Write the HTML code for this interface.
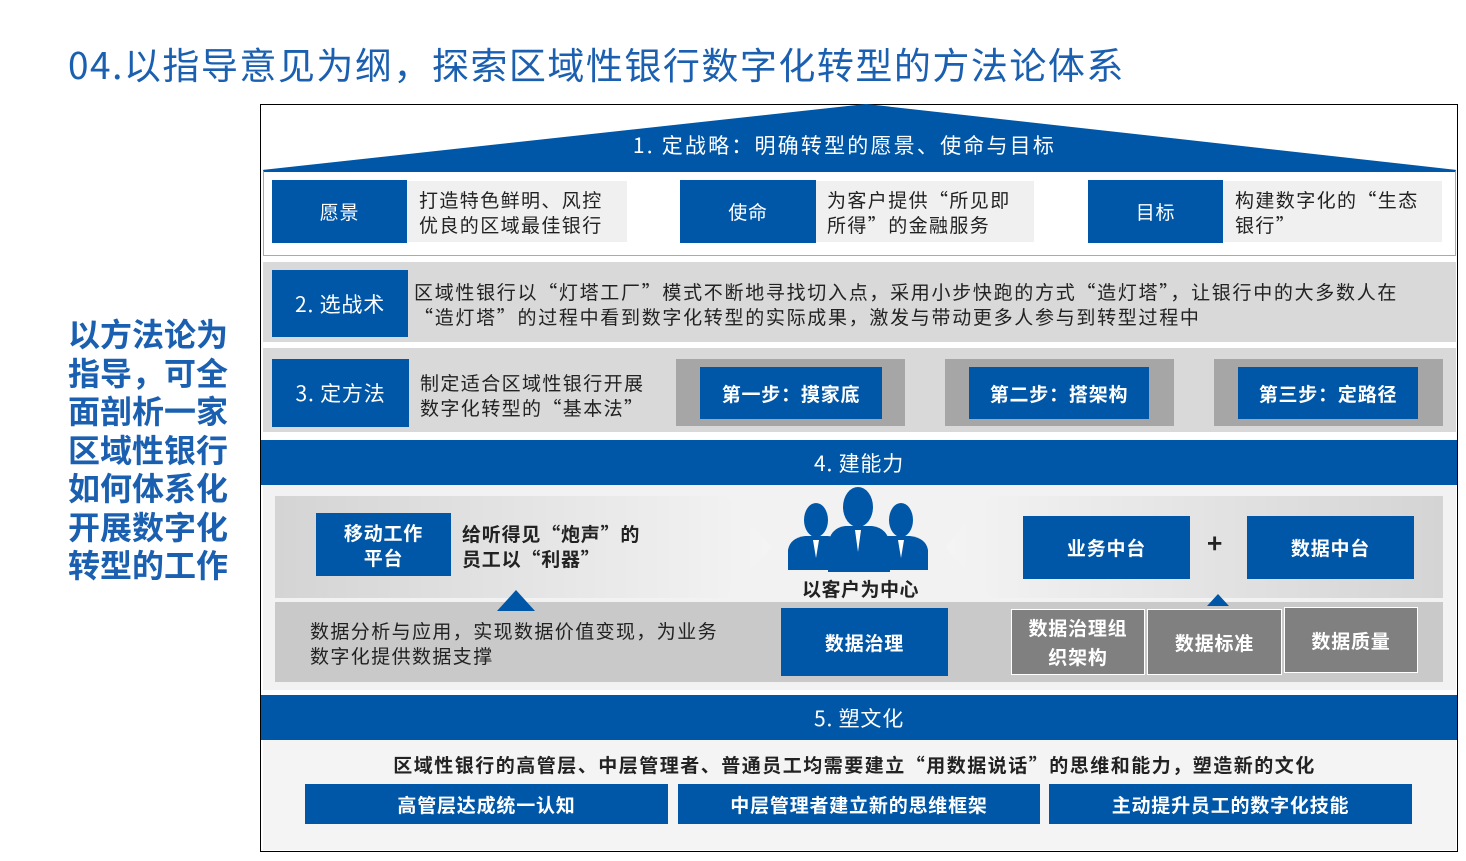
<!DOCTYPE html>
<html><head><meta charset="utf-8"><style>
*{margin:0;padding:0;box-sizing:border-box}
body{width:1466px;height:861px;background:#fff;position:relative;overflow:hidden;font-family:"Noto Sans CJK SC","Liberation Sans",sans-serif}
.a{position:absolute}
.b{position:absolute;background:#0057a8;color:#fff;display:flex;align-items:center;justify-content:center;text-align:center;font-size:19px;letter-spacing:0.8px}
.g{position:absolute;background:#d9d9d9}
.t{position:absolute;font-size:19px;color:#222;line-height:25px;letter-spacing:1.4px}
.bold{font-weight:bold}
</style></head><body>
<div class="a" style="left:68px;top:38px;font-size:37px;line-height:50px;color:#1a5fb0;white-space:nowrap;letter-spacing:1.5px">04.以指导意见为纲，探索区域性银行数字化转型的方法论体系</div>
<div class="a bold" style="left:68px;top:314px;width:175px;font-size:32px;line-height:38.5px;color:#1a5fb0">以方法论为<br>指导，可全<br>面剖析一家<br>区域性银行<br>如何体系化<br>开展数字化<br>转型的工作</div>

<div class="a" style="left:260px;top:104px;width:1198px;height:748px;border:1px solid #000"></div>
<svg class="a" style="left:0;top:0" width="1466" height="861"><polygon points="262,170 866,104 1457,170" fill="#0057a8"/></svg>
<div class="a" style="left:262px;top:130px;width:1195px;text-align:center;font-size:21px;line-height:30px;color:#fff;letter-spacing:2.2px;padding-right:30px">1. 定战略：明确转型的愿景、使命与目标</div>

<div class="a" style="left:263px;top:170px;width:1193px;height:86px;border:1px solid #aaa;border-top:2px solid #0057a8;background:#fff"></div>
<div class="b" style="left:272px;top:180px;width:135px;height:63px">愿景</div>
<div class="t" style="left:407px;top:181px;width:220px;height:61px;background:#f0f0f0;padding:6px 12px">打造特色鲜明、风控<br>优良的区域最佳银行</div>
<div class="b" style="left:680px;top:180px;width:136px;height:63px">使命</div>
<div class="t" style="left:816px;top:181px;width:218px;height:61px;background:#f0f0f0;padding:6px 11px">为客户提供“所见即<br>所得”的金融服务</div>
<div class="b" style="left:1088px;top:180px;width:135px;height:63px">目标</div>
<div class="t" style="left:1223px;top:181px;width:219px;height:61px;background:#f0f0f0;padding:6px 12px">构建数字化的“生态<br>银行”</div>

<div class="g" style="left:263px;top:262px;width:1193px;height:80px"></div>
<div class="b" style="left:272px;top:270px;width:136px;height:67px;font-size:21px">2. 选战术</div>
<div class="t" style="left:414px;top:279px;white-space:nowrap;letter-spacing:1.7px">区域性银行以“灯塔工厂”模式不断地寻找切入点，采用小步快跑的方式“造灯塔”，让银行中的大多数人在<br>“造灯塔”的过程中看到数字化转型的实际成果，激发与带动更多人参与到转型过程中</div>

<div class="g" style="left:263px;top:348px;width:1193px;height:84px"></div>
<div class="b" style="left:272px;top:359px;width:137px;height:68px;font-size:21px">3. 定方法</div>
<div class="t" style="left:420px;top:370px;white-space:nowrap">制定适合区域性银行开展<br>数字化转型的“基本法”</div>
<div class="a" style="left:676px;top:359px;width:229px;height:67px;background:#a6a6a6"></div>
<div class="b bold" style="left:700px;top:367px;width:182px;height:52px">第一步：摸家底</div>
<div class="a" style="left:945px;top:359px;width:229px;height:67px;background:#a6a6a6"></div>
<div class="b bold" style="left:969px;top:367px;width:180px;height:52px">第二步：搭架构</div>
<div class="a" style="left:1214px;top:359px;width:229px;height:67px;background:#a6a6a6"></div>
<div class="b bold" style="left:1238px;top:367px;width:180px;height:52px">第三步：定路径</div>

<div class="b" style="left:261px;top:440px;width:1196px;height:45px;font-size:21px">4. 建能力</div>
<div class="a" style="left:263px;top:485px;width:1193px;height:205px;background:#f2f2f2"></div>
<svg class="a" style="left:0;top:0" width="1466" height="861">
<defs>
<linearGradient id="gl" x1="0" x2="1"><stop offset="0" stop-color="#d4d4d4"/><stop offset="1" stop-color="#f4f4f4"/></linearGradient>
<linearGradient id="gr" x1="1" x2="0"><stop offset="0" stop-color="#d4d4d4"/><stop offset="1" stop-color="#f4f4f4"/></linearGradient>
</defs>
<polygon points="275,496 725,496 772,547 725,598 275,598" fill="url(#gl)"/>
<polygon points="990,496 1443,496 1443,598 990,598 945,547" fill="url(#gr)"/>
<rect x="275" y="602" width="1168" height="80" fill="#c9c9c9"/>
<polygon points="497,611 516,590 535,611" fill="#0057a8"/>
<polygon points="1207,606 1218,594 1229,606" fill="#0057a8"/>
<g fill="#0057a8">
<ellipse cx="816" cy="520" rx="12" ry="17"/>
<ellipse cx="901" cy="520" rx="12" ry="17"/>
<ellipse cx="858" cy="507" rx="15" ry="20"/>
<path d="M788,570 L788,550 Q790,538 805,536 L828,536 Q845,538 846,550 L846,570 Z"/>
<path d="M871,570 L871,550 Q872,538 888,536 L910,536 Q926,538 928,550 L928,570 Z"/>
<path d="M828,572 L828,545 Q830,528 845,526 L872,526 Q888,528 890,545 L890,572 Z"/>
</g>
<g fill="#fff"><polygon points="855,530 861,530 858,552"/><polygon points="813,540 819,540 816,558"/><polygon points="898,540 904,540 901,558"/></g>
</svg>
<div class="b bold" style="left:316px;top:513px;width:135px;height:63px;line-height:25px">移动工作<br>平台</div>
<div class="t bold" style="left:462px;top:521px;white-space:nowrap;letter-spacing:0.8px">给听得见“炮声”的<br>员工以“利器”</div>
<div class="a bold" style="left:802px;top:576px;font-size:19px;line-height:26px;color:#222;letter-spacing:0.5px">以客户为中心</div>
<div class="b bold" style="left:1023px;top:516px;width:167px;height:63px">业务中台</div>
<div class="a bold" style="left:1207px;top:526px;font-size:26px;line-height:34px;color:#222">+</div>
<div class="b bold" style="left:1247px;top:516px;width:167px;height:63px">数据中台</div>
<div class="t" style="left:310px;top:618px;white-space:nowrap">数据分析与应用，实现数据价值变现，为业务<br>数字化提供数据支撑</div>
<div class="b bold" style="left:781px;top:608px;width:167px;height:68px">数据治理</div>
<div class="b bold" style="left:1011px;top:609px;width:134px;height:66px;background:#808080;border:1px solid #fff;line-height:29px">数据治理组<br>织架构</div>
<div class="b bold" style="left:1147px;top:609px;width:135px;height:66px;background:#808080;border:1px solid #fff">数据标准</div>
<div class="b bold" style="left:1284px;top:607px;width:134px;height:66px;background:#808080;border:1px solid #fff">数据质量</div>

<div class="b" style="left:261px;top:695px;width:1196px;height:45px;font-size:21px">5. 塑文化</div>
<div class="a" style="left:263px;top:740px;width:1193px;height:110px;background:#f4f4f4"></div>
<div class="a bold" style="left:263px;top:751px;width:1193px;text-align:center;font-size:19px;line-height:28px;color:#222;letter-spacing:1.5px;padding-right:10px">区域性银行的高管层、中层管理者、普通员工均需要建立“用数据说话”的思维和能力，塑造新的文化</div>
<div class="b bold" style="left:305px;top:784px;width:363px;height:40px">高管层达成统一认知</div>
<div class="b bold" style="left:678px;top:784px;width:362px;height:40px">中层管理者建立新的思维框架</div>
<div class="b bold" style="left:1049px;top:784px;width:363px;height:40px">主动提升员工的数字化技能</div>
</body></html>
